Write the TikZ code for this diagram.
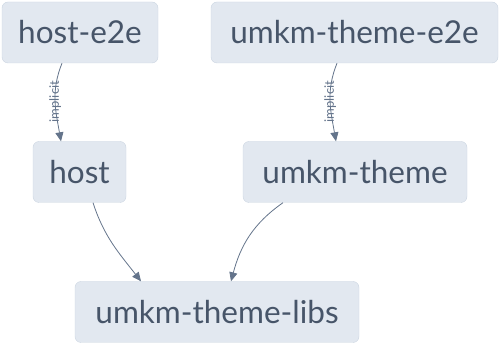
\documentclass[tikz,border=0pt]{standalone}
\usepackage{fontspec}
\setmainfont{Lato}
\usetikzlibrary{positioning, arrows.meta}
\definecolor{boxfill}{HTML}{E2E8F0}
\definecolor{boxline}{HTML}{CBD5E1}
\definecolor{boxtext}{HTML}{475569}
\definecolor{edgeline}{HTML}{64748B}

\begin{document}
\begin{tikzpicture}[
    x=1pt, y=1pt,
    box/.style={draw=boxline, fill=boxfill, rounded corners=6pt, minimum height=61pt, text=boxtext, font=\fontsize{31.5}{36}\selectfont, inner sep=0pt},
    arr/.style={-{Triangle[length=9pt, width=8pt]}, draw=edgeline, line width=0.8pt},
    lbl/.style={font=\fontsize{13}{14}\selectfont, text=edgeline, rotate=90, inner sep=0pt}
]
    \useasboundingbox (0,0) rectangle (501,345);

    \node[box, minimum width=156pt] (hoste2e) at (80,312.5) {host-e2e};
    \node[box, minimum width=287pt] (themee2e) at (354.5,312.5) {umkm-theme-e2e};
    \node[box, minimum width=93pt] (host) at (79.5,173) {host};
    \node[box, minimum width=224pt] (theme) at (355,173) {umkm-theme};
    \node[box, minimum width=284pt] (libs) at (217,33) {umkm-theme-libs};

    \draw[arr] ([xshift=-18pt]hoste2e.south) to[out=-112, in=100] node[lbl] {implicit} ([xshift=-18.5pt]host.north);
    \draw[arr] ([xshift=-17.5pt]themee2e.south) to[out=-112, in=100] node[lbl] {implicit} ([xshift=-19pt]theme.north);
    \draw[arr] ([xshift=13.5pt]host.south) to[out=-72, in=128] ([xshift=-76pt]libs.north);
    \draw[arr] ([xshift=-72pt]theme.south) to[out=-145, in=75] ([xshift=14pt]libs.north);
\end{tikzpicture}
\end{document}
